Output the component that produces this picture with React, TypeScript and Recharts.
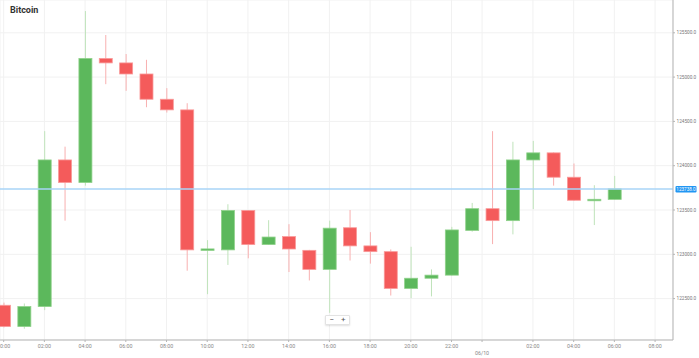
import { ComposedChart, Bar, XAxis, YAxis, CartesianGrid, ReferenceLine } from "recharts";

// hourly candles, hour 0 = 00:00 on 05/10, 24+ = next day
const hours = [
  0, 1, 2, 3, 4, 5, 6, 7, 8, 9, 10, 11, 12, 13, 14, 15,
  16, 17, 18, 19, 20, 21, 22, 23, 24, 25, 26, 27, 28, 29, 30,
];
const opens = [
  122425, 122185, 122410, 124065, 123810, 125210, 125160, 125035, 124750, 124630,
  123045, 123050, 123495, 123110, 123200, 123045, 122830, 123300, 123095, 123030,
  122615, 122730, 122765, 123270, 123515, 123380, 124065, 124145, 123870, 123605, 123620,
];
const highs = [
  122455, 122445, 124390, 124215, 125745, 125475, 125260, 125195, 124875, 124705,
  123160, 123565, 123500, 123385, 123340, 123050, 123380, 123500, 123250, 123055,
  123085, 122830, 123310, 123580, 124390, 124270, 124280, 124150, 124025, 123780, 123885,
];
const lows = [
  122175, 122160, 122370, 123380, 123775, 124920, 124845, 124660, 124600, 122815,
  122550, 122880, 122955, 123105, 122800, 122705, 122340, 122930, 122895, 122535,
  122505, 122525, 122760, 123255, 123115, 123225, 123510, 123775, 123605, 123330, 123615,
];
const closes = [
  122185, 122410, 124065, 123810, 125210, 125160, 125035, 124750, 124630, 123050,
  123060, 123495, 123110, 123195, 123060, 122830, 123295, 123095, 123030, 122615,
  122730, 122765, 123275, 123515, 123380, 124065, 124145, 123870, 123610, 123620, 123738,
];

const priceTicks = [122500, 123000, 123500, 124000, 124500, 125000, 125500];
const timeTicks = [0, 2, 4, 6, 8, 10, 12, 14, 16, 18, 20, 22, 23.5, 26, 28, 30, 32];
const dayBreak = 23.5;
const dayLabel = "06/10";

const data = hours.map((h, i) => ({
  hour: h,
  open: opens[i],
  high: highs[i],
  low: lows[i],
  close: closes[i],
}));
const lastPrice = closes[closes.length - 1];

const UP = "#5cb85c";
const DOWN = "#f45b5b";
const FONT = "Roboto, 'Noto Sans', sans-serif";

const Candle = (props: any) => {
  const { x, y, width, height, payload } = props;
  if (x == null || y == null) return null;
  const { open, close, high, low } = payload;
  const top = Math.min(y, y + height);
  const h = Math.abs(height);
  const ratio = high === low ? 0 : h / (high - low);
  const yOf = (v: number) => top + (high - v) * ratio;
  const up = close >= open;
  const cx = x + width / 2;
  let bTop = yOf(Math.max(open, close));
  let bBot = yOf(Math.min(open, close));
  if (bBot - bTop < 1.5) {
    const mid = (bTop + bBot) / 2;
    bTop = mid - 0.75;
    bBot = mid + 0.75;
  }
  return (
    <g>
      <line
        x1={cx}
        x2={cx}
        y1={top}
        y2={top + h}
        stroke={up ? "#bfe3ba" : "#f8b0b0"}
        strokeWidth={1}
      />
      <rect
        x={x}
        y={bTop}
        width={width}
        height={bBot - bTop}
        fill={up ? UP : DOWN}
        stroke={up ? "#8fd18a" : "#f99a9a"}
        strokeWidth={0.8}
      />
    </g>
  );
};

const TimeTick = (props: any) => {
  const { x, y, payload } = props;
  const v = payload.value;
  if (v === dayBreak) {
    return (
      <text x={x} y={y + 10.5} textAnchor="middle" fontSize={5.3} fill="#888" fontFamily={FONT}>
        {dayLabel}
      </text>
    );
  }
  const hh = String(Math.round(v) % 24).padStart(2, "0");
  return (
    <text x={x} y={y + 4} textAnchor="middle" fontSize={5.3} fill="#888" fontFamily={FONT}>
      {hh}:00
    </text>
  );
};

const PriceLabel = (props: any) => {
  const vb = props.viewBox;
  if (!vb) return null;
  const lx = vb.x + vb.width + 2.5;
  return (
    <g>
      <rect x={lx} y={vb.y - 3} width={21} height={6.5} rx={1.2} fill="#2196f3" />
      <text
        x={lx + 10.5}
        y={vb.y + 1.7}
        textAnchor="middle"
        fontSize={4.6}
        fill="#fff"
        fontFamily={FONT}
      >
        {lastPrice.toFixed(1)}
      </text>
    </g>
  );
};

export default function App() {
  return (
    <div style={{ position: "absolute", left: 0, top: 0, width: 699, height: 358, background: "#fff", overflow: "hidden" }}>
      <ComposedChart
        width={699}
        height={358}
        data={data}
        margin={{ top: 0, right: 0, left: 0, bottom: 0 }}
      >
        <CartesianGrid stroke="#f1f1f1" strokeWidth={1} />
        <XAxis
          dataKey="hour"
          type="number"
          domain={[-0.18, 32.88]}
          ticks={timeTicks}
          interval={0}
          allowDataOverflow
          height={18}
          tickSize={2}
          tickMargin={2}
          tick={<TimeTick />}
          axisLine={{ stroke: "#b5b5b5" }}
          tickLine={{ stroke: "#b5b5b5" }}
        />
        <YAxis
          orientation="right"
          type="number"
          domain={[122033, 125870]}
          ticks={priceTicks}
          interval={0}
          allowDataOverflow
          width={26}
          tickSize={2}
          tickMargin={1.5}
          tickFormatter={(v: number) => v.toFixed(1)}
          tick={{ fontSize: 4.7, fill: "#777", fontFamily: FONT }}
          axisLine={{ stroke: "#b5b5b5" }}
          tickLine={{ stroke: "#b5b5b5" }}
        />
        <ReferenceLine
          y={lastPrice}
          stroke="#a9d5f7"
          strokeWidth={1.5}
          label={<PriceLabel />}
          ifOverflow="visible"
        />
        <Bar
          dataKey={(d: any) => [d.low, d.high]}
          barSize={13}
          shape={<Candle />}
          isAnimationActive={false}
        />
      </ComposedChart>
      <div
        style={{
          position: "absolute",
          left: 10,
          top: 5,
          fontFamily: FONT,
          fontWeight: 700,
          fontSize: 9,
          color: "#333",
        }}
      >
        Bitcoin
      </div>
      <div
        style={{
          position: "absolute",
          left: 325,
          top: 315,
          width: 23,
          height: 8,
          background: "#fff",
          border: "1px solid #e3e3e3",
          borderRadius: 1,
          boxShadow: "0 1px 2px rgba(0,0,0,0.12)",
          display: "flex",
          fontFamily: FONT,
          fontSize: 8,
          lineHeight: "8px",
          color: "#555",
        }}
      >
        <span style={{ flex: 1, textAlign: "center" }}>−</span>
        <span style={{ flex: 1, textAlign: "center" }}>+</span>
      </div>
    </div>
  );
}
